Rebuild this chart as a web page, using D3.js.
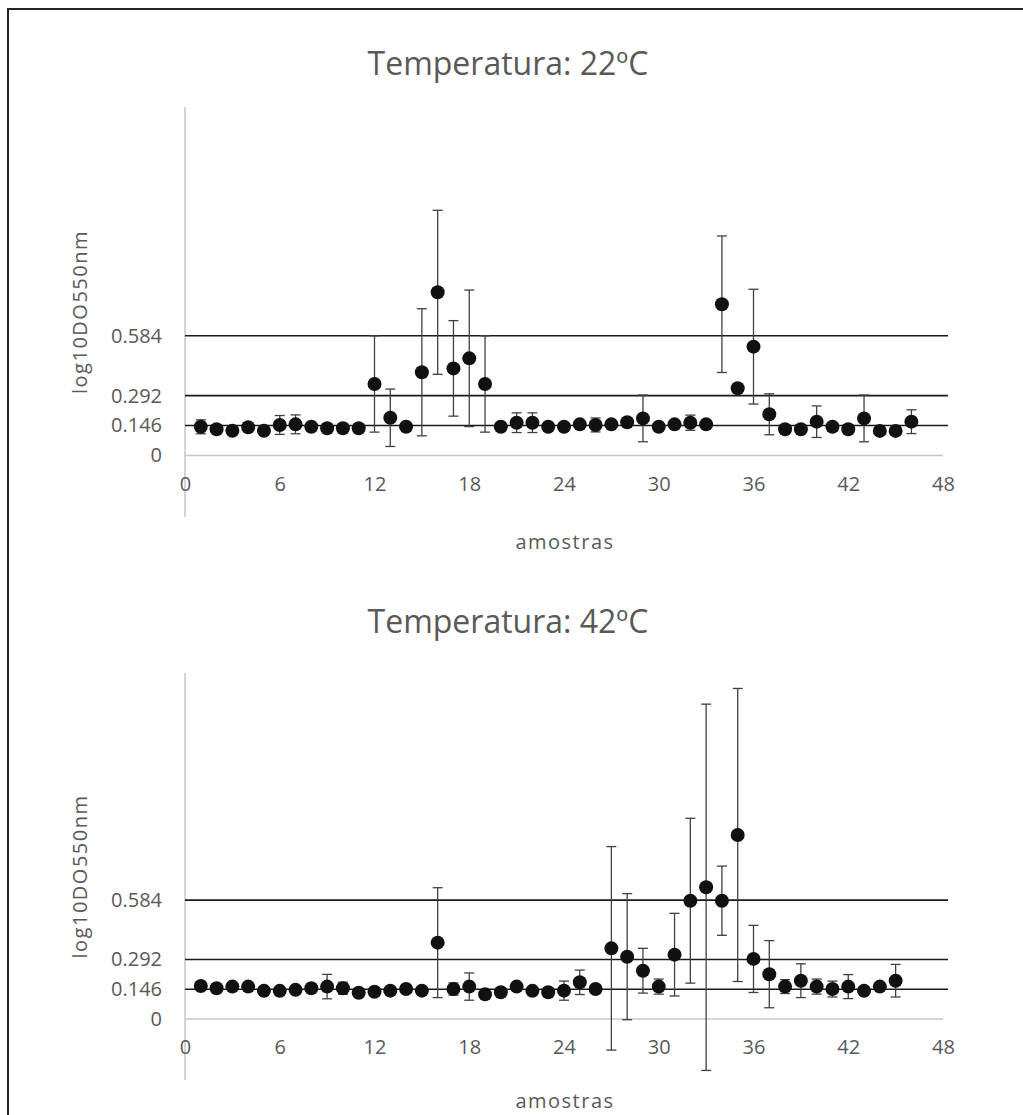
<!DOCTYPE html>
<html>
<head>
<meta charset="utf-8">
<script src="https://cdn.jsdelivr.net/npm/d3@7"></script>
<style>
  body { margin: 0; background: #fff; }
  svg { display: block; }
  text { font-family: "Open Sans", sans-serif; fill: #595959; }
</style>
</head>
<body>
<svg width="1023" height="1115"></svg>
<script>
// log10 DO550nm per sample
const mean22 = [0.140, 0.128, 0.121, 0.138, 0.121, 0.149, 0.152, 0.140, 0.133, 0.133,
  0.133, 0.349, 0.184, 0.140, 0.406, 0.796, 0.425, 0.474, 0.349, 0.140,
  0.160, 0.160, 0.140, 0.140, 0.152, 0.149, 0.152, 0.162, 0.181, 0.140,
  0.152, 0.160, 0.152, 0.738, 0.328, 0.531, 0.201, 0.128, 0.128, 0.165,
  0.140, 0.128, 0.181, 0.120, 0.120, 0.165];
const err22 = [0.034, 0, 0, 0, 0, 0.046, 0.046, 0, 0, 0,
  0, 0.235, 0.140, 0, 0.310, 0.400, 0.233, 0.333, 0.235, 0,
  0.048, 0.048, 0, 0, 0, 0.034, 0, 0, 0.114, 0,
  0, 0.037, 0.020, 0.333, 0, 0.280, 0.100, 0, 0, 0.077,
  0.020, 0, 0.114, 0, 0, 0.058];

const mean42 = [0.162, 0.151, 0.159, 0.159, 0.138, 0.138, 0.143, 0.151, 0.159, 0.151,
  0.129, 0.134, 0.139, 0.147, 0.139, 0.375, 0.147, 0.159, 0.121, 0.131,
  0.159, 0.138, 0.131, 0.139, 0.180, 0.147, 0.347, 0.306, 0.237, 0.159,
  0.316, 0.581, 0.647, 0.581, 0.904, 0.295, 0.220, 0.159, 0.188, 0.159,
  0.147, 0.159, 0.138, 0.159, 0.188];
const err42 = [0, 0, 0, 0.020, 0.020, 0, 0, 0, 0.060, 0.030,
  0, 0, 0, 0, 0, 0.270, 0.030, 0.067, 0, 0,
  0, 0, 0, 0.047, 0.060, 0, 0.500, 0.310, 0.110, 0.037,
  0.203, 0.405, 0.900, 0.170, 0.720, 0.165, 0.165, 0.034, 0.083, 0.037,
  0.039, 0.059, 0, 0, 0.080];

const thresholds = [0.146, 0.292, 0.584];
const yTicks = [0, 0.146, 0.292, 0.584];
const xTicks = [0, 6, 12, 18, 24, 30, 36, 42, 48];

const svg = d3.select("svg");

svg.append("rect").attr("width", 1023).attr("height", 1115).attr("fill", "#fff");
// cropped frame: only top and left edges show
svg.append("path")
  .attr("d", "M8,1115 V9 H1023")
  .attr("fill", "none")
  .attr("stroke", "#262626")
  .attr("stroke-width", 2);

const panels = [
  { title: "Temperatura: 22ºC", mean: mean22, err: err22, titleY: 62, top: 107, bottom: 517, labelY: 541 },
  { title: "Temperatura: 42ºC", mean: mean42, err: err42, titleY: 620, top: 673, bottom: 1080, labelY: 1100 }
];

const x = d3.scaleLinear().domain([0, 48]).range([185, 943]);

panels.forEach(p => {
  const y = d3.scaleLinear().domain([-0.3, 1.7]).range([p.bottom, p.top]);
  const g = svg.append("g");
  const pts = p.mean.map((v, i) => ({ n: i + 1, v: v, e: p.err[i] }));

  g.append("text")
    .attr("x", 508).attr("y", p.titleY)
    .attr("text-anchor", "middle").attr("dominant-baseline", "central")
    .style("font-size", "32px")
    .text(p.title);

  // axis lines
  g.append("line")
    .attr("x1", x(0)).attr("x2", x(0))
    .attr("y1", y(1.7)).attr("y2", y(-0.3))
    .attr("stroke", "#c6c6c6").attr("stroke-width", 1.5);
  g.append("line")
    .attr("x1", x(0)).attr("x2", x(48))
    .attr("y1", y(0)).attr("y2", y(0))
    .attr("stroke", "#c6c6c6").attr("stroke-width", 1.5);

  const xAxis = g.append("g")
    .attr("transform", "translate(0," + y(0) + ")")
    .call(d3.axisBottom(x).tickValues(xTicks).tickSize(0).tickPadding(21).tickFormat(d3.format("d")));
  const yAxis = g.append("g")
    .attr("transform", "translate(" + x(0) + ",0)")
    .call(d3.axisLeft(y).tickValues(yTicks).tickSize(0).tickPadding(23).tickFormat(d => d === 0 ? "0" : d3.format(".3f")(d)));
  [xAxis, yAxis].forEach(a => {
    a.select(".domain").remove();
    a.selectAll("text").style("font-size", "20px").attr("fill", "#595959")
      .style("font-family", "'Open Sans', sans-serif");
  });

  g.append("text")
    .attr("transform", "translate(79," + y(0.7) + ") rotate(-90)")
    .attr("text-anchor", "middle").attr("dominant-baseline", "central")
    .style("font-size", "20px").style("letter-spacing", "1.5px")
    .text("log10DO550nm");

  g.append("text")
    .attr("x", 565).attr("y", p.labelY)
    .attr("text-anchor", "middle").attr("dominant-baseline", "central")
    .style("font-size", "20px").style("letter-spacing", "1.5px")
    .text("amostras");

  g.selectAll(".thr")
    .data(thresholds)
    .enter().append("line")
    .attr("x1", x(0)).attr("x2", x(48) + 5)
    .attr("y1", d => y(d)).attr("y2", d => y(d))
    .attr("stroke", "#1a1a1a").attr("stroke-width", 1.6);

  const bars = g.selectAll(".err")
    .data(pts.filter(d => d.e > 0))
    .enter().append("g")
    .attr("stroke", "#404040").attr("stroke-width", 1.3);
  bars.append("line")
    .attr("x1", d => x(d.n)).attr("x2", d => x(d.n))
    .attr("y1", d => y(d.v + d.e)).attr("y2", d => y(d.v - d.e));
  bars.append("line")
    .attr("x1", d => x(d.n) - 5).attr("x2", d => x(d.n) + 5)
    .attr("y1", d => y(d.v + d.e)).attr("y2", d => y(d.v + d.e));
  bars.append("line")
    .attr("x1", d => x(d.n) - 5).attr("x2", d => x(d.n) + 5)
    .attr("y1", d => y(d.v - d.e)).attr("y2", d => y(d.v - d.e));

  g.selectAll(".dot")
    .data(pts)
    .enter().append("circle")
    .attr("cx", d => x(d.n)).attr("cy", d => y(d.v))
    .attr("r", 7)
    .attr("fill", "#111");
});
</script>
</body>
</html>
